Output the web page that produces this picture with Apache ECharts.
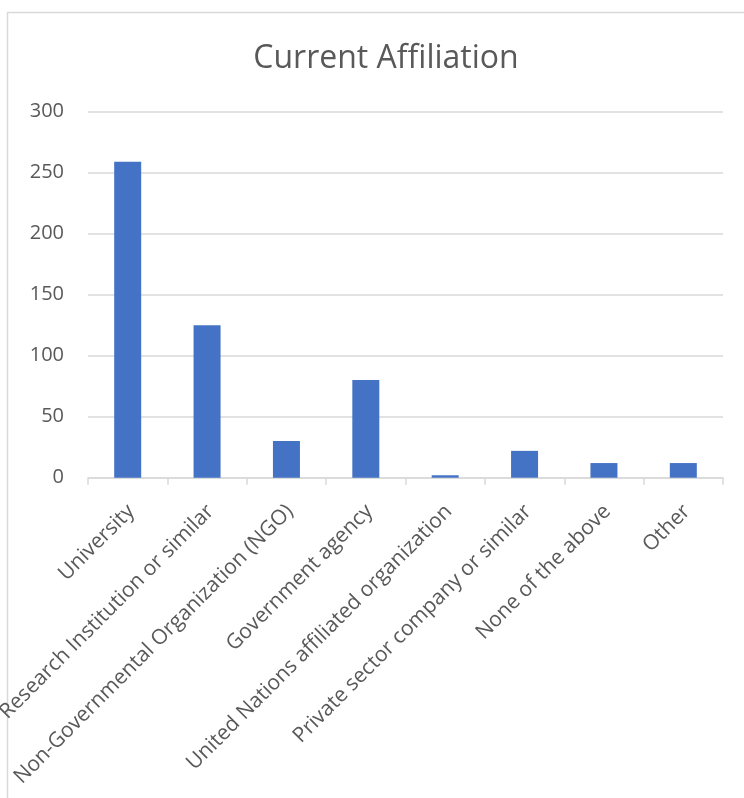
<!DOCTYPE html>
<html>
<head>
<meta charset="utf-8">
<title>Current Affiliation</title>
<script src="https://cdn.jsdelivr.net/npm/echarts@6/dist/echarts.min.js"></script>
<style>
  html, body { margin: 0; padding: 0; background: #ffffff; }
  #chart { width: 744px; height: 798px; }
</style>
</head>
<body>
<div id="chart"></div>
<script>
// Survey responses by current affiliation
const categories = [
  'University',
  'Research Institution or similar',
  'Non-Governmental Organization (NGO)',
  'Government agency',
  'United Nations affiliated organization',
  'Private sector company or similar',
  'None of the above',
  'Other'
];
const counts = [259, 125, 30, 80, 2, 22, 12, 12];
const yTicks = { min: 0, max: 300, interval: 50 };

const FONT = '"Open Sans", "Noto Sans", sans-serif';
const TEXT = '#595959';
const RULE = '#d9d9d9';

const chart = echarts.init(document.getElementById('chart'), null, { renderer: 'canvas' });

chart.setOption({
  backgroundColor: '#ffffff',
  animation: false,
  title: {
    text: 'Current Affiliation',
    left: 381,
    top: 38,
    textAlign: 'center',
    textStyle: { fontFamily: FONT, fontSize: 32, fontWeight: 'normal', color: TEXT }
  },
  graphic: [{
    type: 'polyline',
    silent: true,
    shape: { points: [[7.5, 798], [7.5, 12.5], [744, 12.5]] },
    style: { stroke: RULE, lineWidth: 1.5, fill: null }
  }],
  grid: {
    left: 88, right: 21, top: 111.7, bottom: 320.3,
    containLabel: false,
    outerBoundsMode: 'none'
  },
  xAxis: {
    type: 'category',
    data: categories,
    boundaryGap: true,
    axisLine: { show: true, lineStyle: { color: RULE, width: 1.5 } },
    axisTick: { show: true, length: 7, alignWithLabel: false, lineStyle: { color: RULE, width: 1.5 } },
    axisLabel: {
      interval: 0,
      rotate: 45,
      margin: 34,
      padding: [0, -5, 0, 0],
      fontFamily: FONT,
      fontSize: 21,
      color: TEXT
    },
    splitLine: { show: false }
  },
  yAxis: {
    type: 'value',
    min: yTicks.min,
    max: yTicks.max,
    interval: yTicks.interval,
    axisLine: { show: false },
    axisTick: { show: false },
    axisLabel: { margin: 24, fontFamily: FONT, fontSize: 20, color: TEXT },
    splitLine: { lineStyle: { color: RULE, width: 1.5 } }
  },
  series: [{
    type: 'bar',
    data: counts,
    barWidth: 27,
    itemStyle: { color: '#4472c4' }
  }]
});
</script>
</body>
</html>
